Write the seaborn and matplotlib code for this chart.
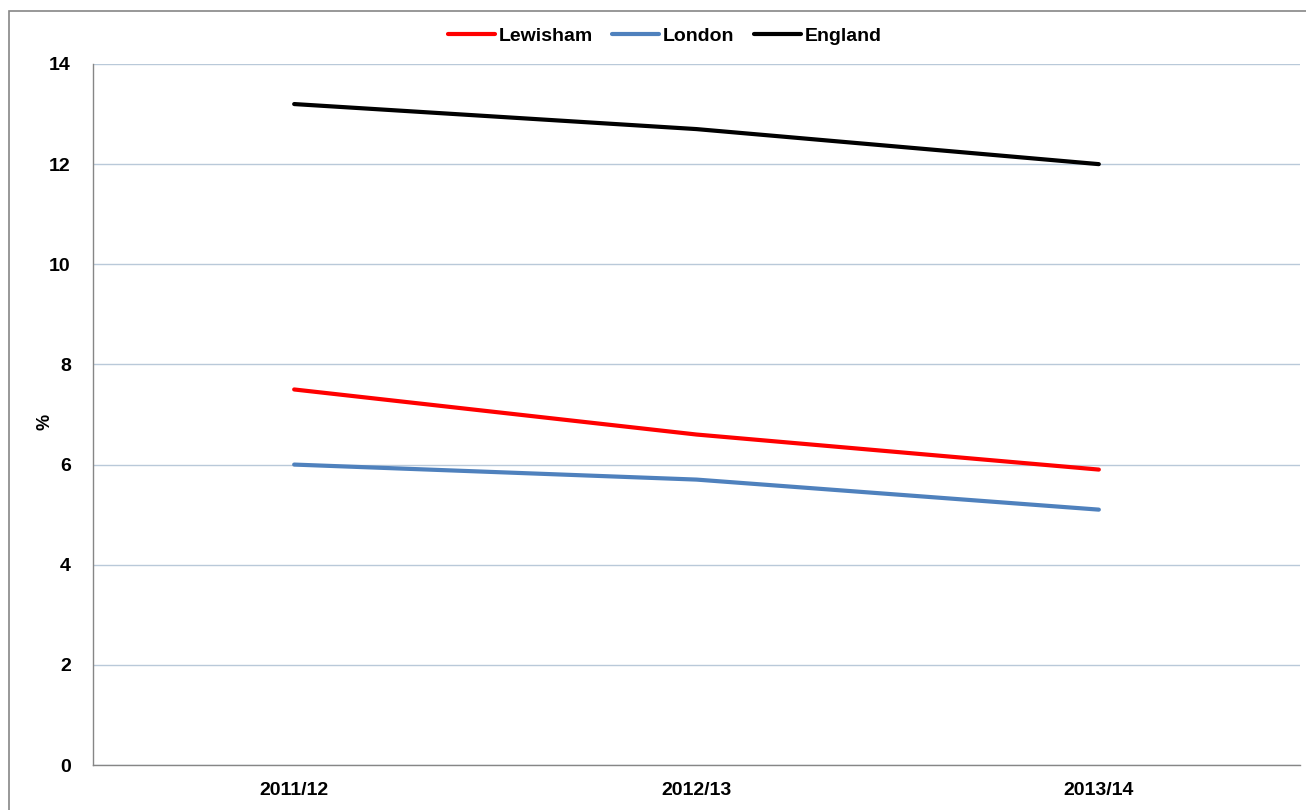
import pandas as pd
import matplotlib.pyplot as plt
import seaborn as sns
from matplotlib.patches import Rectangle

# data
years = ["2011/12", "2012/13", "2013/14"]
lewisham = [7.5, 6.6, 5.9]
london = [6.0, 5.7, 5.1]
england = [13.2, 12.7, 12.0]

df = pd.DataFrame({
    "year": years * 3,
    "area": ["Lewisham"] * 3 + ["London"] * 3 + ["England"] * 3,
    "pct": lewisham + london + england,
})
df["pos"] = df["year"].map({y: i for i, y in enumerate(years)})

sns.set_style("white")
plt.rcParams['font.family'] = ['Liberation Sans', 'DejaVu Sans']
plt.rcParams['text.color'] = 'black'
plt.rcParams['xtick.color'] = 'black'
plt.rcParams['ytick.color'] = 'black'
plt.rcParams['axes.labelcolor'] = 'black'

fig = plt.figure(figsize=(13.06, 8.10), dpi=100)
ax = fig.add_axes([93 / 1306, 45 / 810, 1207 / 1306, 701 / 810])

colors = {"Lewisham": "#FF0000", "London": "#4F81BD", "England": "#000000"}
sns.lineplot(data=df, x="pos", y="pct", hue="area", palette=colors,
             linewidth=3, ax=ax, legend=True)

ax.set_xlim(-0.5, 2.5)
ax.set_ylim(0, 14)
ax.set_yticks(range(0, 15, 2))
ax.set_xticks([0, 1, 2])
ax.set_xticklabels(years, fontsize=14, fontweight="bold")
ax.set_xticks([-0.5, 0.5, 1.5, 2.5], minor=True)
for lab in ax.get_yticklabels():
    lab.set_fontsize(14)
    lab.set_fontweight("bold")
ax.tick_params(axis="x", which="major", length=0, pad=12)
ax.tick_params(axis="x", which="minor", length=6, color="#868686", direction="out")
ax.tick_params(axis="y", length=6, color="#868686", direction="out", pad=10)

ax.grid(axis="y", color="#B9C9D9", linewidth=1)
ax.set_axisbelow(True)
for s in ["top", "right"]:
    ax.spines[s].set_visible(False)
for s in ["left", "bottom"]:
    ax.spines[s].set_color("#868686")
    ax.spines[s].set_linewidth(1)

ax.set_xlabel("")
ax.set_ylabel("%", fontsize=13, fontweight="bold")
ax.yaxis.set_label_coords(-40 / 1207, 0.49)

handles, labels = ax.get_legend_handles_labels()
leg = fig.legend(handles, labels, loc="center", bbox_to_anchor=(0.509, 0.955),
                 ncol=3, frameon=False, handlelength=2.4, handletextpad=0.2,
                 columnspacing=1.0, prop={"weight": "bold", "size": 14})
ax.get_legend().remove()

# outer chart frame
fig.patches.append(Rectangle((9 / 1306, -0.05), 1.2, 0.05 + 799 / 810,
                             transform=fig.transFigure, fill=False,
                             edgecolor="#868686", linewidth=1.2))

fig.savefig("out.png", dpi=100)
